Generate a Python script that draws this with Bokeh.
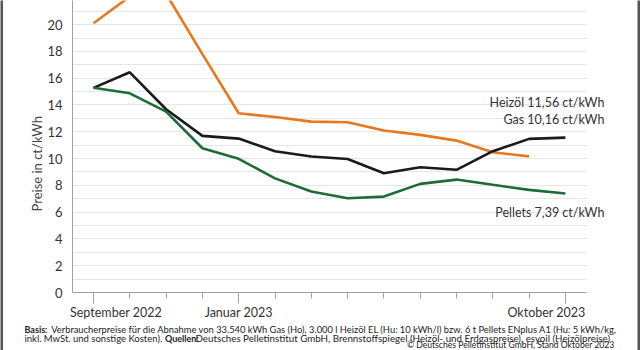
from bokeh.plotting import figure
from bokeh.layouts import row, column
from bokeh.models import (Range1d, FixedTicker, SingleIntervalTicker, BoxAnnotation,
                          LinearAxis, Title)
from bokeh.core.properties import value
from bokeh.embed import file_html
from bokeh.resources import INLINE

# ---- data ----
months = ["Sep 2022", "Okt 2022", "Nov 2022", "Dez 2022", "Jan 2023", "Feb 2023", "Mär 2023",
          "Apr 2023", "Mai 2023", "Jun 2023", "Jul 2023", "Aug 2023", "Sep 2023", "Okt 2023"]
heizoel = [15.28, 16.44, 13.68, 11.69, 11.49, 10.54, 10.15, 9.97, 8.90, 9.35, 9.16, 10.55, 11.47, 11.56]
gas = [20.10, 22.10, 22.30, 17.80, 13.38, 13.10, 12.76, 12.71, 12.09, 11.77, 11.34, 10.47, 10.16]
pellets = [15.28, 14.87, 13.50, 10.77, 9.98, 8.52, 7.54, 7.04, 7.16, 8.11, 8.43, 8.04, 7.66, 7.39]

labeled_months = ["Sep 2022", "Jan 2023", "Okt 2023"]
tick_label_texts = ["September 2022", "Januar 2023", "Oktober 2023"]
end_labels = ["Heizöl 11,56 ct/kWh", "Gas 10,16 ct/kWh", "Pellets 7,39 ct/kWh"]
y_label = "Preise in ct/kWh"
footer_bold = ["Basis:", "Quellen:"]
footer_line1 = "Verbraucherpreise für die Abnahme von 33.540 kWh Gas (Ho), 3.000 l Heizöl EL (Hu: 10 kWh/l) bzw. 6 t Pellets ENplus A1 (Hu: 5 kWh/kg,"
footer_line2 = ["inkl. MwSt. und sonstige Kosten).",
                "Deutsches Pelletinstitut GmbH, Brennstoffspiegel (Heizöl- und Erdgaspreise), esyoil (Heizölpreise)"]
footer_copy = "© Deutsches Pelletinstitut GmbH, Stand Oktober 2023"

FONT = "Lato"
ORANGE = "#E8781E"
GREEN = "#1D6B36"
BLACK = "#1A1A1A"
TEXT = "#333333"
BORDER = "#555555"

W, H = 640, 350
SW = 3                      # side strip width
MW = W - 2 * SW             # main width
MH = 322                    # main figure height
FOOT_H = H - MH
FL = 72 - SW                # frame left inside main fig
FB = 292                    # frame bottom
PX_PER_MONTH = 36.3
X0 = -(93 - 72) / PX_PER_MONTH
X1 = X0 + (MW - FL) / PX_PER_MONTH
XAXIS_END = X0 + (586 - 72) / PX_PER_MONTH

idx = list(range(len(months)))

p = figure(width=MW, height=MH, output_backend="svg", toolbar_location=None,
           x_range=Range1d(X0, X1), y_range=Range1d(0, 21.8),
           min_border_left=FL, min_border_right=0, min_border_top=0,
           min_border_bottom=MH - FB)
p.frame_align = False
p.outline_line_color = None

# y axis
p.yaxis.ticker = SingleIntervalTicker(interval=2, num_minor_ticks=2)
p.yaxis.major_tick_line_color = None
p.yaxis.minor_tick_line_color = None
p.yaxis.axis_line_color = "#a0a0a0"
p.yaxis.major_label_text_font = FONT
p.yaxis.major_label_text_font_size = "13px"
p.yaxis.major_label_text_color = TEXT
p.yaxis.major_label_standoff = 4
p.ygrid.ticker = SingleIntervalTicker(interval=2, num_minor_ticks=2)
p.ygrid.grid_line_color = "#e6e6e6"
p.ygrid.minor_grid_line_color = "#e6e6e6"
p.xgrid.grid_line_color = None

# hide grid beyond the axis end (label area on the right)
p.add_layout(BoxAnnotation(left=XAXIS_END, fill_color="white", fill_alpha=1,
                           line_color=None, level="underlay"))

# x axis: ticks only
major_idx = [months.index(m) for m in labeled_months]
p.xaxis.ticker = FixedTicker(ticks=major_idx, minor_ticks=idx)
p.xaxis.bounds = (X0, XAXIS_END)
p.xaxis.axis_line_color = "#a0a0a0"
p.xaxis.major_tick_line_color = "#a0a0a0"
p.xaxis.minor_tick_line_color = "#a0a0a0"
p.xaxis.major_tick_out = 11
p.xaxis.major_tick_in = 0
p.xaxis.minor_tick_out = 6
p.xaxis.minor_tick_in = 0
p.xaxis.major_label_text_font_size = "1px"
p.xaxis.major_label_text_color = None
p.xaxis.major_label_standoff = 0

# x axis: month labels (first left-aligned, last right-aligned to the axis ends)
label_pos = [major_idx[0] + 0.62, float(major_idx[1]), major_idx[2] - 0.52]
lab_axis = LinearAxis(ticker=FixedTicker(ticks=label_pos, minor_ticks=[]),
                      major_label_overrides={k: t for k, t in zip(label_pos, tick_label_texts)},
                      axis_line_color=None, major_tick_line_color=None,
                      minor_tick_line_color=None, major_tick_out=0, major_tick_in=0,
                      minor_tick_out=0, minor_tick_in=0, major_label_standoff=1,
                      major_label_text_font=FONT, major_label_text_font_size="12.5px",
                      major_label_text_color=TEXT)
p.add_layout(lab_axis, "below")

# y axis title
p.add_layout(Title(text=y_label, align="left", offset=81, standoff=0,
                   text_font=FONT, text_font_size="13px", text_font_style="normal",
                   text_color="#444444"), "left")

# lines
p.line(idx[:len(gas)], gas, line_color=ORANGE, line_width=2.6)
p.line(idx, heizoel, line_color=BLACK, line_width=2.6)
p.line(idx, pellets, line_color=GREEN, line_width=2.6)

# end labels, anchored at the last points
last = len(months) - 1
lab_x = [last, last, last]
lab_y = [heizoel[-1], gas[-1], pellets[-1]]
lab_dy = [-35, -36.5, 19]
for t, xx, yy, dy in zip(end_labels, lab_x, lab_y, lab_dy):
    p.text(x=[xx], y=[yy], text=[t], x_offset=39, y_offset=dy, text_align="right",
           text_baseline="middle", text_font=value(FONT), text_font_size="12.5px",
           text_color=TEXT)

# ---- footer ----
f = figure(width=MW, height=FOOT_H, output_backend="svg", toolbar_location=None,
           x_range=Range1d(0, MW), y_range=Range1d(FOOT_H, 0),
           min_border=0, x_axis_type=None, y_axis_type=None)
f.frame_align = False
f.outline_line_color = None
f.grid.visible = False
fcol = "#222222"
Y1, Y2, Y3 = 328.6 - MH, 337.6 - MH, 344.8 - MH
f.text(x=[24 - SW, 164.5 - SW], y=[Y1, Y2], text=footer_bold,
       text_font=value(FONT), text_font_style="bold", text_font_size="9px",
       text_baseline="middle", text_color=fcol)
f.text(x=[50.7 - SW], y=[Y1], text=[footer_line1],
       text_font=value(FONT), text_font_size="9.35px", text_baseline="middle", text_color=fcol)
f.text(x=[24 - SW], y=[Y2], text=[footer_line2[0]],
       text_font=value(FONT), text_font_size="9.5px", text_baseline="middle", text_color=fcol)
f.text(x=[195 - SW], y=[Y2], text=[footer_line2[1]],
       text_font=value(FONT), text_font_size="9.75px", text_baseline="middle", text_color=fcol)
f.text(x=[614 - SW], y=[Y3], text=[footer_copy], text_font=value(FONT),
       text_font_size="8.6px", text_baseline="middle", text_align="right", text_color=fcol)


def strip():
    s = figure(width=SW, height=H, output_backend="svg", toolbar_location=None,
               min_border=0, x_axis_type=None, y_axis_type=None)
    s.frame_align = False
    s.outline_line_color = None
    s.grid.visible = False
    s.background_fill_color = BORDER
    s.border_fill_color = BORDER
    return s


layout = row(strip(), column(p, f, spacing=0), strip(), spacing=0)

open("out.html", "w").write(file_html(layout, INLINE))
